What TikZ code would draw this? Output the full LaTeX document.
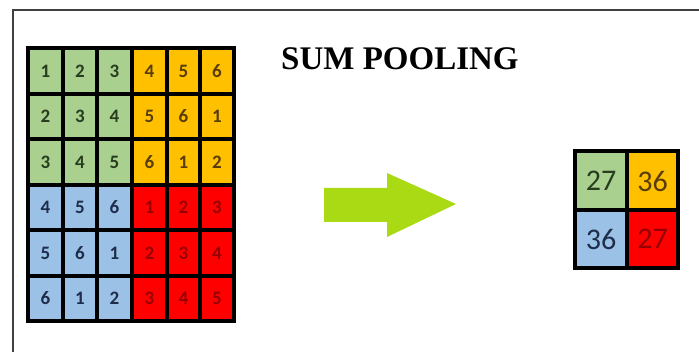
\documentclass[tikz,border=0pt]{standalone}
\usepackage{fontspec}
\setmainfont{Liberation Serif}
\newfontfamily\cellfont{Carlito}
\definecolor{cgreen}{RGB}{169,208,142}
\definecolor{corange}{RGB}{255,192,0}
\definecolor{cblue}{RGB}{155,194,230}
\definecolor{cred}{RGB}{255,0,0}
\definecolor{tgreen}{RGB}{40,60,30}
\definecolor{torange}{RGB}{90,60,10}
\definecolor{tblue}{RGB}{30,45,75}
\definecolor{tred}{RGB}{150,0,0}
\definecolor{arrowgreen}{RGB}{170,218,20}
\begin{document}
\begin{tikzpicture}[x=1pt,y=-1pt,
  numtxt/.style={font=\cellfont\bfseries\fontsize{19}{19}\selectfont, inner sep=0pt},
  bignum/.style={font=\cellfont\fontsize{30}{30}\selectfont, inner sep=0pt},
  gridline/.style={line width=3.5pt, black}]
\useasboundingbox (0,0) rectangle (699,352);
\fill[white] (0,0) rectangle (699,352);
% frame
\draw[line width=2pt, black!75] (13,360) -- (13,10) -- (710,10);
% big grid
\def\xs{{28,63,97,132,167,200,234}}
\def\ys{{48,94,139,185,230,276,321}}
\def\vals{{{1,2,3,4,5,6},{2,3,4,5,6,1},{3,4,5,6,1,2},{4,5,6,1,2,3},{5,6,1,2,3,4},{6,1,2,3,4,5}}}
\foreach \r in {0,...,5}{
  \foreach \c in {0,...,5}{
    \pgfmathsetmacro{\xa}{\xs[\c]}
    \pgfmathsetmacro{\xb}{\xs[\c+1]}
    \pgfmathsetmacro{\ya}{\ys[\r]}
    \pgfmathsetmacro{\yb}{\ys[\r+1]}
    \pgfmathtruncatemacro{\v}{\vals[\r][\c]}
    \ifnum\r<3 \ifnum\c<3 \def\fc{cgreen}\def\tc{tgreen}\else\def\fc{corange}\def\tc{torange}\fi
    \else \ifnum\c<3 \def\fc{cblue}\def\tc{tblue}\else\def\fc{cred}\def\tc{tred}\fi\fi
    \fill[\fc] (\xa,\ya) rectangle (\xb,\yb);
    \node[numtxt, text=\tc] (n\r\c) at ({(\xa+\xb)/2},{(\ya+\yb)/2}) {\v};
  }
}
\foreach \c in {0,...,6}{
  \pgfmathsetmacro{\xa}{\xs[\c]}
  \draw[gridline] (\xa,48) -- (\xa,321);
}
\foreach \r in {0,...,6}{
  \pgfmathsetmacro{\ya}{\ys[\r]}
  \draw[gridline] (28,\ya) -- (234,\ya);
}
\draw[gridline, line cap=rect] (28,48) rectangle (234,321);
% title
\node[font=\bfseries\fontsize{33}{33}\selectfont, anchor=west, inner sep=0pt] (title) at (281,59) {SUM POOLING};
% arrow
\fill[arrowgreen] (324,188) -- (387,188) -- (387,173) -- (456,204) -- (387,237) -- (387,222) -- (324,222) -- cycle;
% small grid
\fill[cgreen] (575,151) rectangle (627,210);
\fill[corange] (627,151) rectangle (678,210);
\fill[cblue] (575,210) rectangle (627,268);
\fill[cred] (627,210) rectangle (678,268);
\node[bignum, text=tgreen] (s00) at (601,181) {27};
\node[bignum, text=torange] (s01) at (652.5,181) {36};
\node[bignum, text=tblue] (s10) at (601,239) {36};
\node[bignum, text=tred] (s11) at (652.5,239) {27};
\draw[gridline] (575,151) rectangle (678,268);
\draw[gridline] (627,151) -- (627,268);
\draw[gridline] (575,210) -- (678,210);
\end{tikzpicture}
\end{document}
